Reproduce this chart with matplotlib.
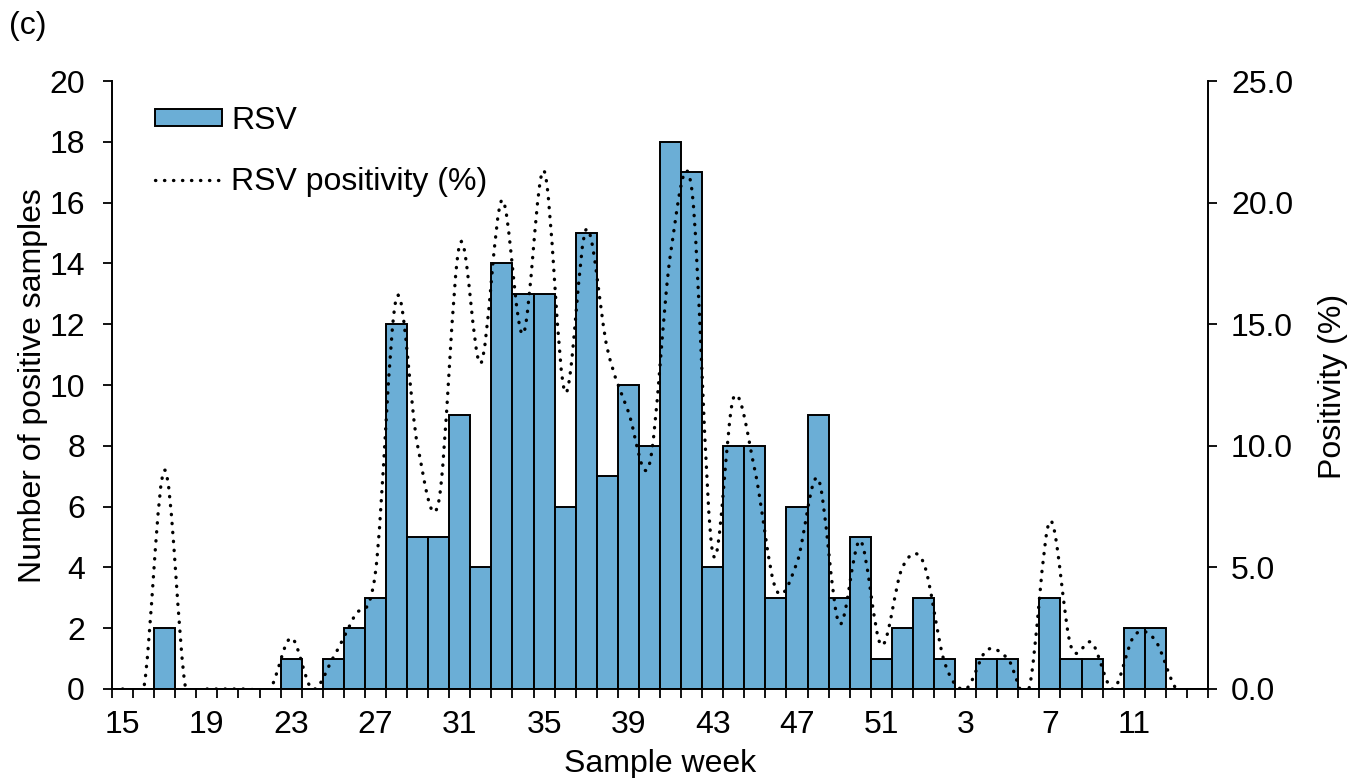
import matplotlib
matplotlib.use("Agg")
import matplotlib.pyplot as plt
from matplotlib.path import Path
from matplotlib.patches import PathPatch
from matplotlib.lines import Line2D
from matplotlib.ticker import FixedLocator, FormatStrFormatter

plt.rcParams['font.family'] = ['Liberation Sans', 'DejaVu Sans']

# sample weeks (Apr -> following Apr)
weeks = [15, 16, 17, 18, 19, 20, 21, 22, 23, 24, 25, 26, 27, 28, 29, 30, 31, 32,
         33, 34, 35, 36, 37, 38, 39, 40, 41, 42, 43, 44, 45, 46, 47, 48, 49, 50,
         51, 52, 1, 2, 3, 4, 5, 6, 7, 8, 9, 10, 11, 12, 13, 14]

# number of RSV positive samples per week
rsv_count = [0, 0, 2, 0, 0, 0, 0, 0, 1, 0, 1, 2, 3, 12, 5, 5, 9, 4,
             14, 13, 13, 6, 15, 7, 10, 8, 18, 17, 4, 8, 8, 3, 6, 9, 3, 5,
             1, 2, 3, 1, 0, 1, 1, 0, 3, 1, 1, 0, 2, 2, 0, 0]

# RSV positivity (%) per week
rsv_pos = [0, 0, 9.0, 0, 0, 0, 0, 0, 2.1, 0, 1.3, 3.0, 4.8, 16.1, 10.0, 7.7, 18.3, 13.4,
           20.1, 14.6, 21.3, 12.2, 18.9, 14.0, 11.4, 9.25, 17.9, 20.6, 5.6, 12.0, 9.0, 4.1, 5.2, 8.65, 2.7, 6.1,
           1.8, 5.0, 5.2, 1.1, 0, 1.6, 1.25, 0, 6.9, 1.75, 1.9, 0, 2.2, 2.0, 0, 0]

label_weeks = [15, 19, 23, 27, 31, 35, 39, 43, 47, 51, 3, 7, 11]

bar_color = '#6BAED6'
fs = 23


def smooth_path(xs, ys):
    # Excel-style smoothed line: cubic bezier through every point
    verts = [(xs[0], ys[0])]
    codes = [Path.MOVETO]
    n = len(xs)
    for i in range(n - 1):
        x0, y0 = xs[max(i - 1, 0)], ys[max(i - 1, 0)]
        x1, y1 = xs[i], ys[i]
        x2, y2 = xs[i + 1], ys[i + 1]
        x3, y3 = xs[min(i + 2, n - 1)], ys[min(i + 2, n - 1)]
        c1 = (x1 + (x2 - x0) / 6, y1 + (y2 - y0) / 6)
        c2 = (x2 - (x3 - x1) / 6, y2 - (y3 - y1) / 6)
        verts += [c1, c2, (x2, y2)]
        codes += [Path.CURVE4] * 3
    return Path(verts, codes)


fig = plt.figure(figsize=(13.5, 7.78), dpi=100)
ax = fig.add_axes([112 / 1350, 1 - 689 / 778, 1096 / 1350, 608 / 778])

x = list(range(len(weeks)))
bars = ax.bar(x, rsv_count, width=1.0, color=bar_color, edgecolor='black',
              linewidth=1.4, label='RSV', zorder=2)

ax.set_xlim(-0.5, len(weeks) - 0.5)
ax.set_ylim(0, 20)
ax.set_yticks(range(0, 21, 2))

# category boundary ticks, labels at every 4th week
ax.xaxis.set_minor_locator(FixedLocator([i - 0.5 for i in range(len(weeks) + 1)]))
ax.set_xticks([weeks.index(w) for w in label_weeks])
ax.set_xticklabels([str(w) for w in label_weeks])
ax.tick_params(axis='x', which='major', length=0, pad=15, labelsize=fs)
ax.tick_params(axis='x', which='minor', length=6.5, width=1.3, direction='out')
ax.tick_params(axis='y', length=6.5, width=1.3, direction='out', pad=13, labelsize=fs)

for s in ['top', 'right']:
    ax.spines[s].set_visible(False)
for s in ['left', 'bottom']:
    ax.spines[s].set_linewidth(1.4)

ax2 = ax.twinx()
ax2.set_ylim(0, 25)
ax2.set_yticks(range(0, 26, 5))
ax2.yaxis.set_major_formatter(FormatStrFormatter('%.1f'))
ax2.tick_params(axis='y', length=6.5, width=1.3, direction='out', pad=10, labelsize=fs)
for s in ['top', 'left', 'bottom']:
    ax2.spines[s].set_visible(False)
ax2.spines['right'].set_linewidth(1.4)

dot_style = (0, (0.1, 2.6))
line_patch = PathPatch(smooth_path(x, rsv_pos), facecolor='none', edgecolor='black',
                       linewidth=2.4, linestyle=dot_style, capstyle='round', zorder=3)
ax2.add_patch(line_patch)

line_handle = Line2D([], [], color='black', linewidth=2.4, linestyle=dot_style,
                     dash_capstyle='round')
ax2.legend([bars, line_handle], ['RSV', 'RSV positivity (%)'], loc='upper left',
           bbox_to_anchor=(142 / 1350, 1 - 93 / 778), bbox_transform=fig.transFigure,
           frameon=False, fontsize=fs, borderaxespad=0,
           handlelength=2.1, handleheight=0.47, handletextpad=0.3,
           labelspacing=0.98)

fig.text(33 / 1350, 1 - 386 / 778, 'Number of positive samples', rotation=90,
         ha='center', va='center', fontsize=fs)
fig.text(1333 / 1350, 1 - 386 / 778, 'Positivity (%)', rotation=90,
         ha='center', va='center', fontsize=fs)
fig.text(660 / 1350, 1 - 764 / 778, 'Sample week', ha='center', va='center', fontsize=fs)
fig.text(9 / 1350, 1 - 26 / 778, '(c)', ha='left', va='center', fontsize=fs)

fig.savefig('out.png', dpi=100)
